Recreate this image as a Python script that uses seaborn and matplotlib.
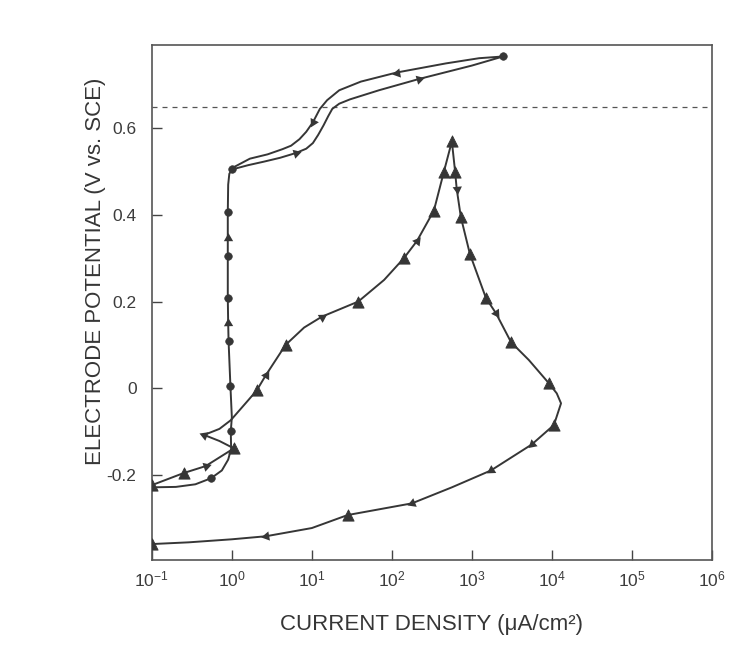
import numpy as np
import pandas as pd
import matplotlib
matplotlib.use("Agg")
import matplotlib.pyplot as plt
import seaborn as sns

# ---------------- data ----------------
# Alloy with circle markers: forward scan then reverse scan
circ_x = [0.1, 0.2, 0.35, 0.55, 0.75, 0.9, 0.98, 0.97, 1.0, 0.96, 0.91, 0.9, 0.89, 0.89,
          0.89, 0.89, 0.9, 0.93, 1.0,
          1.6, 2.5, 4.0, 6.3, 8.5, 10.3, 12, 14, 16, 18, 22, 30, 69, 218, 1000, 2450,
          1230, 473, 115, 41, 22, 15.5, 12.6, 10.3, 8.5, 7.0, 5.5, 4.3, 2.8, 1.68, 1.0]
circ_y = [-0.229, -0.228, -0.222, -0.208, -0.19, -0.165, -0.14, -0.10, -0.067, 0.005, 0.109,
          0.15, 0.208, 0.305, 0.346, 0.406, 0.47, 0.495, 0.505,
          0.515, 0.523, 0.532, 0.543, 0.553, 0.566, 0.585, 0.607, 0.628, 0.645, 0.657,
          0.667, 0.688, 0.714, 0.745, 0.766,
          0.762, 0.750, 0.729, 0.708, 0.688, 0.665, 0.645, 0.614, 0.592, 0.575, 0.560,
          0.552, 0.540, 0.530, 0.508]
circ_kind = ["", "", "", "o", "", "", "", "o", "", "o", "o", "a", "o", "o", "a", "o", "",
             "", "o",
             "", "", "", "a", "", "", "", "", "", "", "", "", "", "a", "", "o",
             "", "", "a", "", "", "", "", "a", "", "", "", "", "", "", ""]

# Alloy with triangle markers (pitting loop)
tri_x = [0.1, 0.25, 0.47, 1.06, 0.7, 0.45, 0.7, 0.97, 1.6, 2.05, 2.66, 4.7, 8, 13.3, 38,
         80, 141, 206, 335, 447, 562, 617, 646, 728, 944, 1500, 2000, 3090, 5150, 9100,
         11500, 13000, 10600, 5600, 1730, 562, 178, 28, 10, 2.66, 1.0, 0.29, 0.1]
tri_y = [-0.224, -0.196, -0.18, -0.139, -0.122, -0.108, -0.094, -0.074, -0.028, -0.005,
         0.03, 0.10, 0.14, 0.165, 0.2, 0.25, 0.30, 0.34, 0.41, 0.50, 0.57, 0.50, 0.46,
         0.395, 0.31, 0.208, 0.173, 0.106, 0.065, 0.012, -0.012, -0.035, -0.085, -0.13,
         -0.19, -0.229, -0.266, -0.293, -0.323, -0.342, -0.349, -0.356, -0.36]
tri_kind = ["t", "t", "a", "t", "", "a", "", "", "", "t", "a", "t", "", "a", "t",
            "", "t", "a", "t", "t", "t", "t", "a", "t", "t", "t", "a", "t", "", "t",
            "", "", "t", "a", "a", "", "a", "t", "", "a", "", "", "t"]

pit_level = 0.65  # dashed reference line

x_ticks = [1e-1, 1e0, 1e1, 1e2, 1e3, 1e4, 1e5, 1e6]
x_ticklabels = ["10$^{-1}$", "10$^{0}$", "10$^{1}$", "10$^{2}$", "10$^{3}$",
                "10$^{4}$", "10$^{5}$", "10$^{6}$"]
y_ticks = [-0.2, 0.0, 0.2, 0.4, 0.6]
y_ticklabels = ["-0.2", "0", "0.2", "0.4", "0.6"]

# ---------------- style ----------------
sns.set_style("ticks")
plt.rcParams["font.family"] = ["Liberation Sans", "DejaVu Sans"]
plt.rcParams["mathtext.fontset"] = "custom"
plt.rcParams["mathtext.rm"] = "Liberation Sans"
plt.rcParams["mathtext.it"] = "Liberation Sans:italic"
plt.rcParams["mathtext.bf"] = "Liberation Sans:bold"

ink = "#363636"
fig = plt.figure(figsize=(7.37, 6.46), dpi=100)
ax = fig.add_axes([0.206, 0.133, 0.760, 0.797])
ax.set_xscale("log")
ax.set_xlim(1e-1, 1e6)
ax.set_ylim(-0.397, 0.792)

df_c = pd.DataFrame({"x": circ_x, "y": circ_y, "kind": circ_kind})
df_t = pd.DataFrame({"x": tri_x, "y": tri_y, "kind": tri_kind})

sns.lineplot(data=df_c, x="x", y="y", sort=False, estimator=None, color=ink, lw=1.4, ax=ax)
sns.lineplot(data=df_t, x="x", y="y", sort=False, estimator=None, color=ink, lw=1.4, ax=ax)

sns.scatterplot(data=df_c[df_c.kind == "o"], x="x", y="y", marker="o", s=30,
                color=ink, edgecolor=ink, ax=ax, zorder=5)
sns.scatterplot(data=df_t[df_t.kind == "t"], x="x", y="y", marker="^", s=65,
                color=ink, edgecolor=ink, ax=ax, zorder=5)

# arrowheads along the curves, oriented by local direction in display space
def draw_arrows(df):
    pts = ax.transData.transform(np.column_stack([df.x.values, df.y.values]))
    for i, k in enumerate(df.kind.values):
        if k != "a":
            continue
        p0 = pts[i - 1] if i > 0 else pts[i]
        p1 = pts[i]
        d = p1 - p0
        ang = np.degrees(np.arctan2(d[1], d[0]))
        ax.scatter([df.x.values[i]], [df.y.values[i]], marker=(3, 0, ang - 90),
                   s=60, color=ink, zorder=6, linewidths=0)

draw_arrows(df_c)
draw_arrows(df_t)

ax.axhline(pit_level, ls=(0, (4, 4)), lw=0.9, color="#555555", zorder=1)

ax.set_xticks(x_ticks)
ax.set_xticklabels(x_ticklabels)
ax.xaxis.set_minor_locator(matplotlib.ticker.NullLocator())
ax.set_yticks(y_ticks)
ax.set_yticklabels(y_ticklabels)
ax.tick_params(axis="both", direction="in", length=7, width=1.0, color="#444444",
               labelcolor="#3c3c3c", labelsize=12.5)
ax.tick_params(axis="y", pad=11)
ax.tick_params(axis="x", pad=7)

for sp in ax.spines.values():
    sp.set_linewidth(1.2)
    sp.set_color("#555555")

ax.set_xlabel("CURRENT DENSITY (μA/cm²)", fontsize=16, color="#363636")
ax.set_ylabel("ELECTRODE POTENTIAL (V vs. SCE)", fontsize=16, color="#363636")
ax.xaxis.set_label_coords(0.5, -0.105)
ax.yaxis.set_label_coords(-0.082, 0.56)

fig.savefig("out.png", dpi=100, facecolor="white")
